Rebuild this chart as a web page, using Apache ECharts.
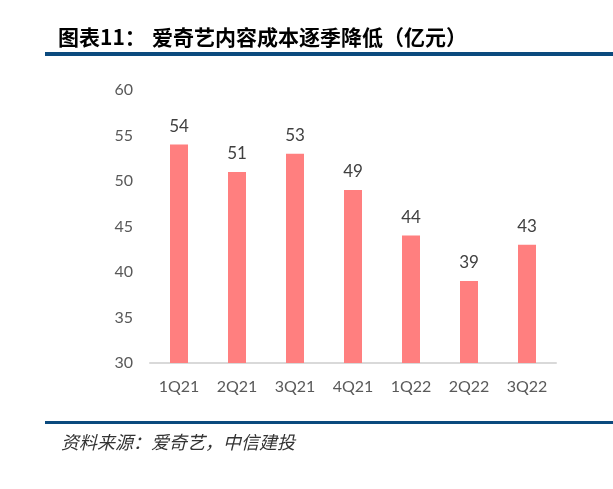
<!DOCTYPE html>
<html><head><meta charset="utf-8">
<script src="https://cdn.jsdelivr.net/npm/echarts@6/dist/echarts.min.js"></script>
<style>html,body{margin:0;padding:0;background:#fff}#c{width:613px;height:489px}</style>
</head><body><div id="c"></div>
<script>
const categories = ['1Q21','2Q21','3Q21','4Q21','1Q22','2Q22','3Q22'];
const values = [54, 51, 53, 49, 44, 39, 43];
const yTicks = {min: 30, max: 60, interval: 5};
const titleLabel = '图表11：';
const titleText = '爱奇艺内容成本逐季降低（亿元）';
const sourceText = '资料来源：爱奇艺，中信建投';

const chart = echarts.init(document.getElementById('c'), null, {renderer: 'canvas'});
chart.setOption({
  backgroundColor: '#fff',
  animation: false,
  grid: {left: 150, right: 57, top: 90, bottom: 126},
  xAxis: {
    type: 'category', data: categories,
    axisLine: {lineStyle: {color: '#D9D9D9', width: 2}},
    axisTick: {show: false},
    axisLabel: {color: '#595959', fontSize: 16, fontFamily: 'Lato', margin: 16}
  },
  yAxis: {
    type: 'value', min: yTicks.min, max: yTicks.max, interval: yTicks.interval,
    axisLine: {show: false}, axisTick: {show: false}, splitLine: {show: false},
    axisLabel: {color: '#595959', fontSize: 16, fontFamily: 'Lato', margin: 17}
  },
  series: [{
    type: 'bar', data: values, barWidth: 18,
    itemStyle: {color: '#FF7F7F'},
    label: {show: true, position: 'top', distance: 10, color: '#404040', fontSize: 17, fontFamily: 'Lato'}
  }],
  graphic: [
    {type: 'text', x: 58, y: 37, style: {text: titleLabel, font: 'bold 21px "Noto Sans CJK SC"', fill: '#000', textVerticalAlign: 'middle'}},
    {type: 'text', x: 152, y: 37, style: {text: titleText, font: 'bold 21px "Noto Sans CJK SC"', fill: '#000', textVerticalAlign: 'middle'}},
    {type: 'rect', shape: {x: 45, y: 52, width: 568, height: 4}, style: {fill: '#0B4A7E'}},
    {type: 'rect', shape: {x: 45, y: 421, width: 568, height: 3}, style: {fill: '#0B4A7E'}},
    {type: 'text', x: 61, y: 442, style: {text: sourceText, font: 'italic 18px "Noto Sans CJK SC"', fill: '#333', textVerticalAlign: 'middle'}}
  ]
});
</script></body></html>
